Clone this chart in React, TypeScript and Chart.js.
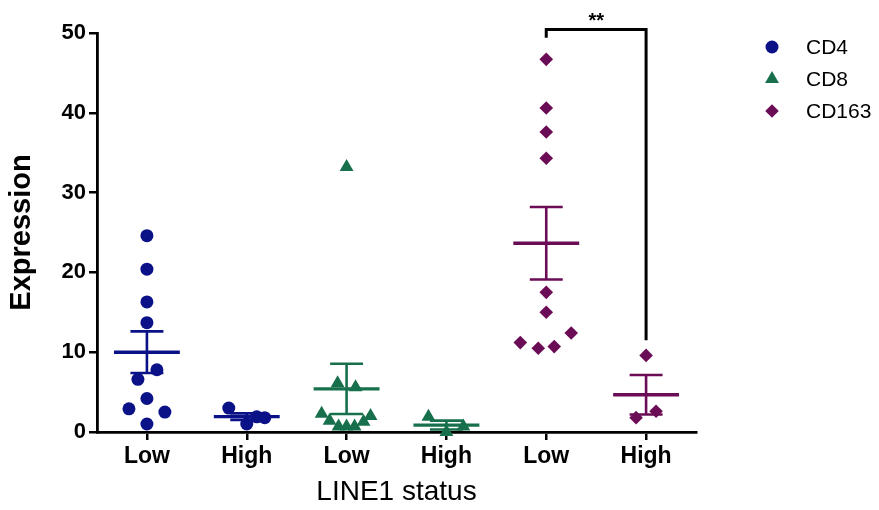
import React, { useEffect, useRef } from 'react';
import { Chart, registerables } from 'chart.js';

Chart.register(...registerables);

// ---- data ----
const categories = ['Low', 'High', 'Low', 'High', 'Low', 'High'];
const seriesNames = ['CD4', 'CD8', 'CD163'];
const seriesColors = ['#0b1287', '#17704b', '#6b0d56'];
const seriesMarkers = ['circle', 'triangle', 'rectRot'];
const markerRadius = [6.5, 8, 6.8];

const cd4Low = [24.6, 20.4, 16.3, 13.7, 7.8, 6.6, 4.2, 2.9, 2.5, 1.0];
const cd4LowJitter = [0, 0, 0, 0, 0.1, -0.09, 0, -0.18, 0.18, 0];
const cd4High = [3.0, 1.0, 1.9, 1.8];
const cd4HighJitter = [-0.18, 0, 0.1, 0.18];

const cd8Low = [33.2, 6.1, 5.6, 2.3, 2.0, 1.4, 1.3, 0.7, 0.7, 0.7];
const cd8LowJitter = [0, -0.09, 0.09, -0.25, 0.24, -0.17, 0.17, -0.08, 0, 0.08];
const cd8High = [1.9, 0.0, 0.7];
const cd8HighJitter = [-0.18, 0, 0.17];

const cd163Low = [46.7, 40.6, 37.6, 34.3, 17.5, 15.0, 12.4, 11.2, 10.5, 10.7];
const cd163LowJitter = [0, 0, 0, 0, 0, 0, 0.25, -0.26, -0.08, 0.08];
const cd163High = [9.6, 1.8, 2.6];
const cd163HighJitter = [0, -0.1, 0.1];

const yTicks = [0, 10, 20, 30, 40, 50];
const bracketX = [5, 6];
const bracketY = [49.4, 50.45, 11.5]; // left leg end, top bar, right leg end
const significance = '**';

// groups: [values, jitter, category position, series index]
const groups: [number[], number[], number, number][] = [
  [cd4Low, cd4LowJitter, 1, 0],
  [cd4High, cd4HighJitter, 2, 0],
  [cd8Low, cd8LowJitter, 3, 1],
  [cd8High, cd8HighJitter, 4, 1],
  [cd163Low, cd163LowJitter, 5, 2],
  [cd163High, cd163HighJitter, 6, 2],
];

function meanSem(v: number[]) {
  const n = v.length;
  const m = v.reduce((a, b) => a + b, 0) / n;
  const sd = Math.sqrt(v.reduce((a, b) => a + (b - m) * (b - m), 0) / (n - 1));
  return { m, sem: sd / Math.sqrt(n) };
}

const FONT = "'Liberation Sans', Arial, sans-serif";

const overlayPlugin = {
  id: 'overlay',
  afterDatasetsDraw(chart: any) {
    const ctx = chart.ctx;
    const xs = chart.scales.x;
    const ys = chart.scales.y;
    ctx.save();
    // mean +/- SEM
    groups.forEach(([vals, , pos, si]) => {
      const { m, sem } = meanSem(vals);
      const color = seriesColors[si];
      const cx = xs.getPixelForValue(pos);
      const half = xs.getPixelForValue(pos + 0.33) - cx;
      const capHalf = xs.getPixelForValue(pos + 0.165) - cx;
      const ym = ys.getPixelForValue(m);
      const yt = ys.getPixelForValue(m + sem);
      const yb = ys.getPixelForValue(m - sem);
      ctx.strokeStyle = color;
      ctx.lineCap = 'butt';
      ctx.lineWidth = 2.6;
      ctx.beginPath();
      ctx.moveTo(cx, yt);
      ctx.lineTo(cx, yb);
      ctx.moveTo(cx - capHalf, yt);
      ctx.lineTo(cx + capHalf, yt);
      ctx.moveTo(cx - capHalf, yb);
      ctx.lineTo(cx + capHalf, yb);
      ctx.stroke();
      ctx.lineWidth = 3.4;
      ctx.beginPath();
      ctx.moveTo(cx - half, ym);
      ctx.lineTo(cx + half, ym);
      ctx.stroke();
    });
    // significance bracket
    const bx1 = xs.getPixelForValue(bracketX[0]);
    const bx2 = xs.getPixelForValue(bracketX[1]);
    const by1 = ys.getPixelForValue(bracketY[0]);
    const byTop = ys.getPixelForValue(bracketY[1]);
    const by2 = ys.getPixelForValue(bracketY[2]);
    ctx.strokeStyle = '#000';
    ctx.lineWidth = 3;
    ctx.lineJoin = 'miter';
    ctx.beginPath();
    ctx.moveTo(bx1, by1);
    ctx.lineTo(bx1, byTop);
    ctx.lineTo(bx2, byTop);
    ctx.lineTo(bx2, by2);
    ctx.stroke();
    ctx.fillStyle = '#000';
    ctx.font = `bold 20px ${FONT}`;
    ctx.textAlign = 'center';
    ctx.textBaseline = 'alphabetic';
    ctx.fillText(significance, (bx1 + bx2) / 2, byTop - 2);
    // legend
    const lx = 772;
    const ly0 = 47;
    const lstep = 32;
    seriesNames.forEach((name, i) => {
      const y = ly0 + i * lstep;
      ctx.fillStyle = seriesColors[i];
      ctx.beginPath();
      const r = markerRadius[i];
      if (seriesMarkers[i] === 'circle') {
        ctx.arc(lx, y, r, 0, Math.PI * 2);
      } else if (seriesMarkers[i] === 'triangle') {
        ctx.moveTo(lx, y - r);
        ctx.lineTo(lx + r * 0.866, y + r * 0.5);
        ctx.lineTo(lx - r * 0.866, y + r * 0.5);
        ctx.closePath();
      } else {
        ctx.moveTo(lx - r, y);
        ctx.lineTo(lx, y - r);
        ctx.lineTo(lx + r, y);
        ctx.lineTo(lx, y + r);
        ctx.closePath();
      }
      ctx.fill();
      ctx.fillStyle = '#000';
      ctx.font = `21px ${FONT}`;
      ctx.textAlign = 'left';
      ctx.textBaseline = 'middle';
      ctx.fillText(name, 806, y + 1);
    });
    ctx.restore();
  },
};

export default function App() {
  const ref = useRef<HTMLCanvasElement>(null);
  useEffect(() => {
    document.body.style.margin = '0';
    const datasets = seriesNames.map((name, si) => {
      const data: { x: number; y: number }[] = [];
      groups.forEach(([vals, jit, pos, s]) => {
        if (s !== si) return;
        vals.forEach((v, i) => data.push({ x: pos + jit[i], y: v }));
      });
      return {
        label: name,
        data,
        showLine: false,
        pointStyle: seriesMarkers[si],
        pointRadius: markerRadius[si],
        pointBackgroundColor: seriesColors[si],
        pointBorderColor: seriesColors[si],
        pointBorderWidth: 0,
        clip: false,
      };
    });
    const chart = new Chart(ref.current!, {
      type: 'scatter',
      data: { datasets: datasets as any },
      options: {
        animation: false,
        responsive: false,
        devicePixelRatio: 1,
        layout: { padding: { top: 33, right: 183, left: 0, bottom: 0 } },
        plugins: { legend: { display: false }, tooltip: { enabled: false } },
        scales: {
          x: {
            type: 'linear',
            min: 0.5,
            max: 6.5,
            afterBuildTicks: (s: any) => {
              s.ticks = categories.map((_, i) => ({ value: i + 1 }));
            },
            afterFit: (s: any) => {
              s.height = 78;
            },
            ticks: {
              callback: (v: any) => categories[Math.round(v) - 1] ?? '',
              color: '#000',
              font: { family: FONT, size: 23, weight: 'bold' },
              padding: 3,
              maxRotation: 0,
              autoSkip: false,
            },
            grid: { display: true, drawOnChartArea: false, drawTicks: true, tickLength: 8, color: '#000', lineWidth: 2.5 },
            border: { display: true, color: '#000', width: 2.8 },
            title: {
              display: true,
              text: 'LINE1 status',
              color: '#000',
              font: { family: FONT, size: 28, weight: 'normal' },
              padding: { top: 0, bottom: 1 },
            },
          },
          y: {
            min: 0,
            max: 50,
            afterBuildTicks: (s: any) => {
              s.ticks = yTicks.map((v) => ({ value: v }));
            },
            afterFit: (s: any) => {
              s.width = 97;
            },
            ticks: {
              color: '#000',
              font: { family: FONT, size: 22, weight: 'bold' },
              padding: 3,
            },
            grid: { display: true, drawOnChartArea: false, drawTicks: true, tickLength: 8, color: '#000', lineWidth: 2.5 },
            border: { display: true, color: '#000', width: 2.8 },
            title: {
              display: true,
              text: 'Expression',
              color: '#000',
              font: { family: FONT, size: 29, weight: 'bold' },
              padding: { top: 5, bottom: 4 },
            },
          },
        },
      },
      plugins: [overlayPlugin],
    } as any);
    return () => chart.destroy();
  }, []);
  return (
    <div style={{ width: 879, height: 510, position: 'relative' }}>
      <canvas ref={ref} width={879} height={510} style={{ display: 'block', width: 879, height: 510 }} />
    </div>
  );
}
